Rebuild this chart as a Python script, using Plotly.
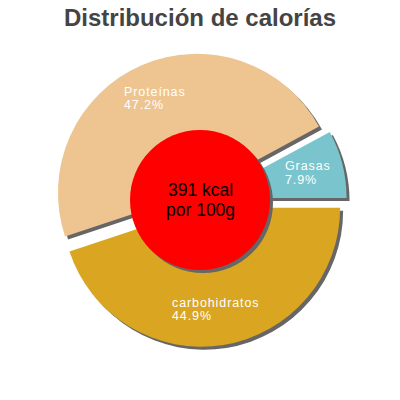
import math
import plotly.graph_objects as go

# Calorie split per 100 g
labels = ["Grasas", "Proteínas", "carbohidratos"]
percent = [7.9, 47.2, 44.9]
colors = ["#7AC5CD", "#EEC591", "#DAA520"]
kcal = 391

W = H = 400
cx, cy = 0.5, 0.5
pull = 0.057
half = 0.367
sh = 3 / W  # shadow offset
FONT = "Liberation Sans, Arial"
LAB = 12.5

# first slice starts at 3 o'clock and runs counterclockwise
rot = 90 - 360 * percent[0] / sum(percent)
R = half * W / (1 + pull)  # pie radius in px

fig = go.Figure()

# shadow pie, shifted right/down
fig.add_trace(go.Pie(
    labels=labels, values=percent, sort=False,
    direction="counterclockwise", rotation=rot,
    pull=pull, marker=dict(colors=["#666666"] * len(labels)),
    textinfo="none", hoverinfo="skip", showlegend=False,
    domain=dict(x=[cx - half + sh, cx + half + sh], y=[cy - half - sh, cy + half - sh]),
))

fig.add_trace(go.Pie(
    labels=labels, values=percent, sort=False,
    direction="counterclockwise", rotation=rot,
    pull=pull, marker=dict(colors=colors),
    textinfo="none", showlegend=False,
    domain=dict(x=[cx - half, cx + half], y=[cy - half, cy + half]),
))

# slice labels along each bisector, two left aligned lines
start = 0.0
for lab, p in zip(labels, percent):
    mid = math.radians((start + p / 2) / sum(percent) * 360)
    start += p
    dist = (pull + 0.74) * R
    xc = W * cx + dist * math.cos(mid)
    yc = H * cy + dist * math.sin(mid)
    w = len(lab) * (0.47 * LAB + 0.9)
    for txt, dy in ((lab, 6.75), (f"{p}%", -6.75)):
        fig.add_annotation(text=txt, x=(xc - w / 2 - 4) / W, y=(yc + dy) / H,
                           xref="paper", yref="paper", xanchor="left", yanchor="middle",
                           align="left", showarrow=False,
                           font=dict(family=FONT, size=LAB, color="white"))

# red centre disc with its shadow
r = 70 / W
fig.add_shape(type="circle", xref="paper", yref="paper",
              x0=cx - r + sh, x1=cx + r + sh, y0=cy - r - sh, y1=cy + r - sh,
              fillcolor="#666666", line_width=0, layer="above")
fig.add_shape(type="circle", xref="paper", yref="paper",
              x0=cx - r, x1=cx + r, y0=cy - r, y1=cy + r,
              fillcolor="#FF0000", line_width=0, layer="above")
for txt, dy in ((f"{kcal} kcal", 9.5), ("por 100g", -10)):
    fig.add_annotation(text=txt, x=cx, y=cy + dy / H, xref="paper", yref="paper",
                       xanchor="center", yanchor="middle", showarrow=False,
                       font=dict(family=FONT, size=17.5, color="black"))

fig.update_layout(
    width=W, height=H,
    margin=dict(l=0, r=0, t=0, b=0),
    paper_bgcolor="white", plot_bgcolor="white",
    title=dict(text="<b>Distribución de calorías</b>", x=0.5, y=0.978, yanchor="top",
               font=dict(family=FONT, size=24, color="#444444")),
)

n_lab = 2 * len(labels)
post = (
    "document.body.style.margin='0';"
    "document.querySelectorAll('g.annotation').forEach(function(a){"
    f"if(+a.getAttribute('data-index')<{n_lab}){{"
    "var t=a.querySelector('.annotation-text'); if(t) t.style.letterSpacing='0.9px';}});"
)
fig.write_html("out.html", post_script=post, config={"displayModeBar": False})
